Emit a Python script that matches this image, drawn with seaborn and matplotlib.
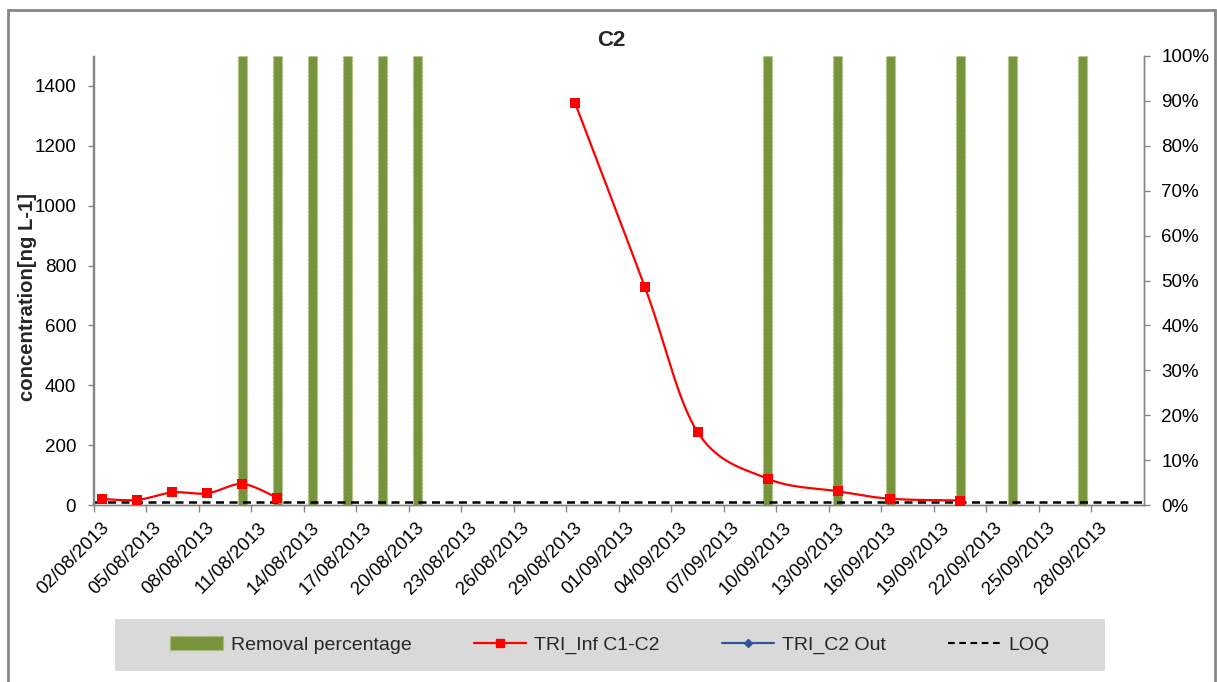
import numpy as np
import pandas as pd
import matplotlib
matplotlib.use("Agg")
import matplotlib.pyplot as plt
import matplotlib.dates as mdates
import matplotlib.transforms as mtrans
from matplotlib.lines import Line2D
from matplotlib.patches import Rectangle, Patch
import seaborn as sns

# ---------------- data ----------------
conc_dates = ['02/08/2013', '04/08/2013', '06/08/2013', '08/08/2013', '10/08/2013', '12/08/2013',
              '29/08/2013', '02/09/2013', '05/09/2013', '09/09/2013', '13/09/2013', '16/09/2013',
              '20/09/2013']
conc_values = [20, 17, 42, 39, 70, 24, 1344, 727, 244, 88, 46, 21, 15]
conc_segment = [1, 1, 1, 1, 1, 1, 2, 2, 2, 2, 2, 2, 2]

removal_dates = ['10/08/2013', '12/08/2013', '14/08/2013', '16/08/2013', '18/08/2013', '20/08/2013',
                 '09/09/2013', '13/09/2013', '16/09/2013', '20/09/2013', '23/09/2013', '27/09/2013']
removal_pct = [100, 100, 100, 100, 100, 100, 100, 100, 100, 100, 100, 100]

loq_value = 10

tick_labels = ['02/08/2013', '05/08/2013', '08/08/2013', '11/08/2013', '14/08/2013', '17/08/2013',
               '20/08/2013', '23/08/2013', '26/08/2013', '29/08/2013', '01/09/2013', '04/09/2013',
               '07/09/2013', '10/09/2013', '13/09/2013', '16/09/2013', '19/09/2013', '22/09/2013',
               '25/09/2013', '28/09/2013']
x_start, x_end = '02/08/2013', '01/10/2013'

left_ticks = [0, 200, 400, 600, 800, 1000, 1200, 1400]
right_ticks = [0, 10, 20, 30, 40, 50, 60, 70, 80, 90, 100]

# ---------------- helpers ----------------
def dnum(s):
    return mdates.date2num(pd.to_datetime(s, format='%d/%m/%Y'))

CENTER = 0.5  # Excel date axis puts points in middle of the day slot

W, H = 1217, 682
sns.set_theme(style='white')
plt.rcParams['font.family'] = ['Liberation Sans', 'DejaVu Sans']

fig = plt.figure(figsize=(W / 100, H / 100), dpi=100)
L, R, T, B = 93.5, 1144, 56, 505
ax1 = fig.add_axes([L / W, 1 - B / H, (R - L) / W, (B - T) / H])
ax2 = ax1.twinx()
ax1.set_zorder(ax2.get_zorder() + 1)
ax1.patch.set_visible(False)

xmin, xmax = dnum(x_start), dnum(x_end)
ymax = 1500

# bars (secondary axis)
bar_df = pd.DataFrame({'x': [dnum(d) + CENTER for d in removal_dates], 'pct': removal_pct})
sns.barplot(data=bar_df, x='x', y='pct', native_scale=True, width=0.25, errorbar=None,
            color='#77933C', saturation=1, edgecolor='#A6C170', linewidth=1.0, linestyle=':',
            ax=ax2)

# smoothed red line (Excel-like bezier smoothing in screen space)
sx = (R - L) / (xmax - xmin)
sy = (B - T) / ymax
cx = np.array([dnum(d) + CENTER for d in conc_dates])
cy = np.array(conc_values, dtype=float)
seg = np.array(conc_segment)
rows = []
for s in np.unique(seg):
    m = seg == s
    P = np.column_stack([cx[m] * sx, cy[m] * sy])
    n = len(P)
    for i in range(n - 1):
        p0 = P[i - 1] if i > 0 else P[i]
        p1, p2 = P[i], P[i + 1]
        p3 = P[i + 2] if i + 2 < n else P[i + 1]
        c1 = p1 + (p2 - p0) / 6.0
        c2 = p2 - (p3 - p1) / 6.0
        t = np.linspace(0, 1, 30)[:, None]
        pts = (1 - t) ** 3 * p1 + 3 * (1 - t) ** 2 * t * c1 + 3 * (1 - t) * t ** 2 * c2 + t ** 3 * p2
        if i > 0:
            pts = pts[1:]
        for px, py in pts:
            rows.append((px / sx, py / sy, s))
curve = pd.DataFrame(rows, columns=['x', 'y', 'seg'])
sns.lineplot(data=curve, x='x', y='y', units='seg', estimator=None, sort=False,
             color='#FF0000', linewidth=1.6, ax=ax1, zorder=3)
sns.scatterplot(x=cx, y=cy, marker='s', s=42, color='#FF0000', edgecolor='#FF0000',
                linewidth=0, ax=ax1, zorder=4)

# LOQ line
loq_df = pd.DataFrame({'x': [xmin, xmax], 'y': [loq_value, loq_value]})
sns.lineplot(data=loq_df, x='x', y='y', color='black', linewidth=1.8, ax=ax1, zorder=2)
ax1.lines[-1].set_dashes((3.2, 2.2))

# axes setup
ax1.set_xlim(xmin, xmax)
ax2.set_xlim(xmin, xmax)
ax1.set_ylim(0, ymax)
ax2.set_ylim(0, 100)
ax1.set_xticks([dnum(d) for d in tick_labels])
ax1.set_xticklabels(tick_labels, rotation=45, ha='right', rotation_mode='anchor', fontsize=13.5)
ax1.set_yticks(left_ticks)
ax1.set_yticklabels([str(v) for v in left_ticks], fontsize=13.5)
ax2.set_yticks(right_ticks)
ax2.set_yticklabels([f'{v}%' for v in right_ticks], fontsize=13.5)
ax1.set_xlabel('')
ax1.set_ylabel('')
ax2.set_ylabel('')
ax2.set_xlabel('')

spc = '#868686'
for a in (ax1, ax2):
    for sp in a.spines.values():
        sp.set_color(spc)
        sp.set_linewidth(1.0)
    a.spines['top'].set_visible(False)
ax1.tick_params(axis='y', which='both', direction='out', length=4.5, width=1, color=spc,
                left=True, right=False, pad=8, labelcolor='black')
ax2.tick_params(axis='y', which='both', direction='out', length=4.5, width=1, color=spc,
                right=True, left=False, pad=8, labelcolor='black')
ax1.tick_params(axis='x', which='both', direction='out', length=5, width=1, color=spc,
                bottom=True, pad=4, labelcolor='black')
ax2.tick_params(axis='x', bottom=False, labelbottom=False)

# shift x labels slightly right so their end sits at the tick
offset = mtrans.ScaledTranslation(7 / 100, -2 / 100, fig.dpi_scale_trans)
for lab in ax1.get_xticklabels():
    lab.set_transform(lab.get_transform() + offset)

# title and y label
fig.text(611 / W, 1 - 41 / H, 'C2', ha='center', va='center', fontsize=16, fontweight='bold')
fig.text(28 / W, 1 - 297 / H, 'concentration[ng L-1]', ha='center', va='center',
         rotation=90, fontsize=14.6, fontweight='bold')

# legend background and legend
fig.add_artist(Rectangle((115 / W, 1 - 671 / H), 990 / W, 52 / H, transform=fig.transFigure,
                         facecolor='#D9D9D9', edgecolor='none', zorder=0))
handles = [
    Patch(facecolor='#77933C', edgecolor='#A6C170', linestyle=':', linewidth=1.0),
    Line2D([], [], color='#FF0000', marker='s', markersize=6, linewidth=1.6),
    Line2D([], [], color='#2F5597', marker='D', markersize=4, linewidth=1.6),
    Line2D([], [], color='black', linestyle=(0, (3.2, 2.2)), linewidth=1.5),
]
labels = ['Removal percentage', 'TRI_Inf C1-C2', 'TRI_C2 Out', 'LOQ']
fig.legend(handles, labels, loc='center', bbox_to_anchor=(610 / W, 1 - 645 / H), ncol=4,
           frameon=False, fontsize=14, handlelength=2.7, handletextpad=0.4, columnspacing=3.2)

# outer chart border
fig.add_artist(Rectangle((8 / W, -0.1), (1215 - 8) / W, 1.1 - 10 / H, transform=fig.transFigure,
                         fill=False, edgecolor=spc, linewidth=2))

fig.savefig('out.png', dpi=100)
